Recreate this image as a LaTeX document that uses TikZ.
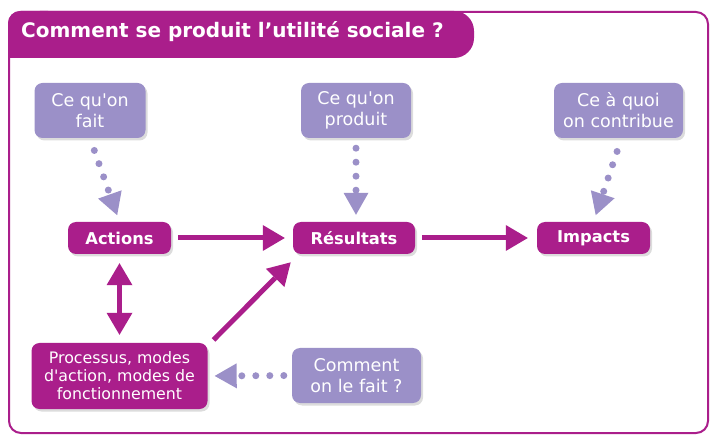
\documentclass[tikz,border=0pt]{standalone}
\usepackage{fontspec}
\setmainfont{DejaVu Sans}
\usepackage{tikz}
\usetikzlibrary{arrows.meta,shadows}
\definecolor{plum}{HTML}{AA1E8B}
\definecolor{lilac}{HTML}{9B90C8}
\tikzset{
  boxshade/.style={drop shadow={shadow xshift=2pt,shadow yshift=-2.5pt,opacity=0.28}},
  askbox/.style={fill=lilac,text=white,rounded corners=8pt,align=center,inner sep=0pt,
    minimum width=#1,minimum height=55pt,font=\fontsize{17.5}{21}\selectfont,boxshade},
  stagebox/.style={fill=plum,text=white,rounded corners=8pt,align=center,inner sep=0pt,
    minimum width=#1,minimum height=32pt,font=\bfseries\fontsize{16.3}{20}\selectfont,boxshade},
  flow/.style={draw=plum,line width=5pt,-{Triangle[length=22pt,width=26pt,line width=0pt 0]}},
  hint/.style={draw=lilac,line width=7pt,line cap=round,dash pattern=on 0pt off 14pt,
    -{Triangle[length=22pt,width=25pt,line width=0pt 0]}},
}
\newcommand{\apos}{\textquotesingle}
\begin{document}
\begin{tikzpicture}[x=1pt,y=-1pt]
  \useasboundingbox (0,0) rectangle (720,443);
  % frame and title tab
  \draw[plum,line width=2pt,rounded corners=12pt] (9,12) rectangle (708,433);
  \fill[plum,rounded corners=20pt] (20,11) rectangle (474,58);
  \fill[plum,rounded corners=12pt] (8,11) rectangle (60,58);
  \fill[plum] (8,35) rectangle (60,58);
  \node[anchor=base west,inner sep=0pt,text=white,font=\bfseries\fontsize{20}{24}\selectfont]
    (title) at (21,38) {Comment se produit l’utilité sociale ?};
  % stages
  \node[stagebox=103pt] (actions)   at (119.5,238) {Actions};
  \node[stagebox=122pt] (resultats) at (354,238)   {Résultats};
  \node[stagebox=113pt] (impacts)   at (593.5,238) {Impacts};
  \node[stagebox=176pt,minimum height=66pt,font=\fontsize{15.8}{18}\selectfont]
    (processus) at (119.5,376) {Processus, modes\\d\apos action, modes de\\fonctionnement};
  % questions
  \node[askbox=111pt] (fait)      at (90,110.5)    {Ce qu\apos on\\fait};
  \node[askbox=110pt] (produit)   at (356,110.5)   {Ce qu\apos on\\produit};
  \node[askbox=129pt] (contribue) at (618.5,110.5) {Ce à quoi\\on contribue};
  \node[askbox=129pt] (comment)   at (356.5,375.5) {Comment\\on le fait ?};
  % solid arrows
  \draw[flow,shorten <=7pt,shorten >=8pt] (actions.east) -- (resultats.west);
  \draw[flow,shorten <=7pt,shorten >=9pt] (resultats.east) -- (impacts.west);
  \draw[flow,{Triangle[length=22pt,width=26pt,line width=0pt 0]}-{Triangle[length=22pt,width=26pt,line width=0pt 0]},
    shorten <=9pt,shorten >=8pt] (actions.south) -- (processus.north);
  \draw[flow,shorten <=4pt,shorten >=3pt] ([xshift=3pt]processus.north east) -- ([yshift=-6pt]resultats.south west);
  % dotted arrows
  \draw[hint,shorten <=13pt,shorten >=7pt] (fait.south) -- (actions.north);
  \draw[hint,shorten <=10pt,shorten >=7pt] (produit.south) -- ([xshift=2pt]resultats.north);
  \draw[hint,shorten <=14pt,shorten >=7pt] ([xshift=3pt]contribue.south) -- (impacts.north);
  \draw[hint,shorten <=8pt,shorten >=7pt] (comment.west) -- (processus.east);
\end{tikzpicture}
\end{document}
